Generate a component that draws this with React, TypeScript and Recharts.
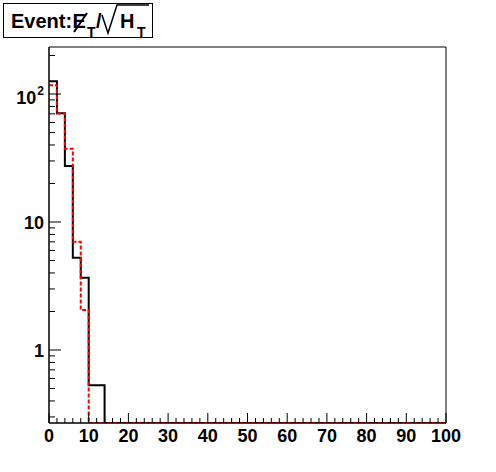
import React from "react";
import { LineChart, Line, XAxis, YAxis, ReferenceArea } from "recharts";

// histogram: 50 bins of width 2 over 0..100
const binEdges = [
  0, 2, 4, 6, 8, 10, 12, 14, 16, 18, 20, 22, 24, 26, 28, 30, 32, 34, 36, 38,
  40, 42, 44, 46, 48, 50, 52, 54, 56, 58, 60, 62, 64, 66, 68, 70, 72, 74, 76, 78,
  80, 82, 84, 86, 88, 90, 92, 94, 96, 98, 100,
];

const blackCounts = [
  126, 70.7, 27.4, 5.26, 3.67, 0.53, 0.53, 0, 0, 0,
  0, 0, 0, 0, 0, 0, 0, 0, 0, 0,
  0, 0, 0, 0, 0, 0, 0, 0, 0, 0,
  0, 0, 0, 0, 0, 0, 0, 0, 0, 0,
  0, 0, 0, 0, 0, 0, 0, 0, 0, 0,
];

const redCounts = [
  117, 70.5, 37.4, 7.0, 2.05, 0, 0, 0, 0, 0,
  0, 0, 0, 0, 0, 0, 0, 0, 0, 0,
  0, 0, 0, 0, 0, 0, 0, 0, 0, 0,
  0, 0, 0, 0, 0, 0, 0, 0, 0, 0,
  0, 0, 0, 0, 0, 0, 0, 0, 0, 0,
];

const Y_MIN = 0.269;
const Y_MAX = 233;

const yMajorTicks = [1, 10, 100];
const yMajorLabels = ["1", "10", "10^2"];
const yMinorTicks = [
  0.3, 0.4, 0.5, 0.6, 0.7, 0.8, 0.9,
  2, 3, 4, 5, 6, 7, 8, 9,
  20, 30, 40, 50, 60, 70, 80, 90,
  200,
];

const xMajorTicks = [0, 10, 20, 30, 40, 50, 60, 70, 80, 90, 100];
const xMajorLabels = ["0", "10", "20", "30", "40", "50", "60", "70", "80", "90", "100"];

const FONT = '"Liberation Sans", Arial, Helvetica, sans-serif';

// step data: the last edge repeats the last bin, empty bins sit on the floor
const table = binEdges.map((x, i) => {
  const b = blackCounts[Math.min(i, blackCounts.length - 1)];
  const r = redCounts[Math.min(i, redCounts.length - 1)];
  return { x, black: b > 0 ? b : Y_MIN, red: r > 0 ? r : Y_MIN };
});

const YTick = (props: any) => {
  const { x, y, payload } = props;
  const idx = yMajorTicks.indexOf(payload.value);
  const major = idx >= 0;
  let label: React.ReactNode = null;
  if (major) {
    const [base, exp] = yMajorLabels[idx].split("^");
    label = (
      <text
        x={x - 5}
        y={y + (exp ? 10 : 6.5)}
        textAnchor="end"
        fontFamily={FONT}
        fontWeight="bold"
        fontSize={18}
        fill="#000"
      >
        {base}
        {exp && (
          <tspan dx={1} dy={-9} fontSize={12}>
            {exp}
          </tspan>
        )}
      </text>
    );
  }
  return (
    <g>
      <line x1={x} x2={x + (major ? 12 : 6)} y1={y} y2={y} stroke="#000" />
      {label}
    </g>
  );
};

const XTick = (props: any) => {
  const { x, y, payload } = props;
  const idx = xMajorTicks.indexOf(payload.value);
  const major = idx >= 0;
  return (
    <g>
      <line x1={x} x2={x} y1={y} y2={y - (major ? 10 : 5)} stroke="#000" />
      {major && (
        <text
          x={x}
          y={y + 19}
          textAnchor="middle"
          fontFamily={FONT}
          fontWeight="bold"
          fontSize={18}
          fill="#000"
        >
          {xMajorLabels[idx]}
        </text>
      )}
    </g>
  );
};

const Title = () => (
  <svg
    width={160}
    height={42}
    style={{ position: "absolute", left: 0, top: 0 }}
    fontFamily={FONT}
    fontWeight="bold"
  >
    <rect x={3.5} y={3.5} width={149} height={34} fill="#fff" stroke="#000" />
    <text x={11} y={28} fontSize={20}>Event:</text>
    <text x={72.5} y={28} fontSize={20}>E</text>
    <line x1={74} y1={32} x2={87} y2={13} stroke="#000" strokeWidth={2} />
    <text x={87} y={37} fontSize={14}>T</text>
    <text x={96} y={28} fontSize={20}>/</text>
    <path
      d="M102 15 L108 33 L117 5 L149 5"
      fill="none"
      stroke="#000"
      strokeWidth={1.5}
    />
    <text x={120} y={28} fontSize={20}>H</text>
    <text x={137} y={37} fontSize={14}>T</text>
  </svg>
);

export default function App() {
  return (
    <div
      style={{
        position: "absolute",
        left: 0,
        top: 0,
        width: 496,
        height: 472,
        background: "#fff",
      }}
    >
      <LineChart
        width={496}
        height={472}
        data={table}
        margin={{ top: 47, right: 50, bottom: 0, left: 0 }}
      >
        <XAxis
          dataKey="x"
          type="number"
          domain={[0, 100]}
          ticks={binEdges}
          interval={0}
          height={49}
          tickSize={0}
          tickMargin={0}
          tickLine={false}
          axisLine={{ stroke: "#000" }}
          tick={<XTick />}
        />
        <YAxis
          type="number"
          scale="log"
          domain={[Y_MIN, Y_MAX]}
          allowDataOverflow
          ticks={[...yMajorTicks, ...yMinorTicks]}
          interval={0}
          width={49}
          tickSize={0}
          tickMargin={0}
          tickLine={false}
          axisLine={{ stroke: "#000" }}
          tick={<YTick />}
        />
        <ReferenceArea
          x1={0}
          x2={100}
          y1={Y_MIN}
          y2={Y_MAX}
          fill="none"
          fillOpacity={0}
          stroke="#000"
          strokeWidth={1}
        />
        <Line
          dataKey="black"
          type="stepAfter"
          stroke="#000"
          strokeWidth={2}
          dot={false}
          activeDot={false}
          isAnimationActive={false}
        />
        <Line
          dataKey="red"
          type="stepAfter"
          stroke="#ff0000"
          strokeWidth={2}
          strokeDasharray="4 2"
          dot={false}
          activeDot={false}
          isAnimationActive={false}
        />
      </LineChart>
      <Title />
    </div>
  );
}
